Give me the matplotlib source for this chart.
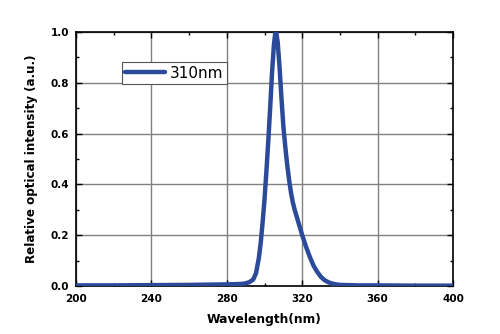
import numpy as np
import matplotlib.pyplot as plt
from matplotlib.ticker import MultipleLocator

# spectrum (nm, relative intensity)
wavelength = [200, 220, 240, 260, 270, 280, 285, 288, 290, 292, 294, 295.5,
              297, 298, 299, 300, 301, 302, 303, 304, 305, 305.7, 306.3, 307, 308,
              309, 310, 311, 312, 313, 314, 315, 316, 318, 320, 322, 324,
              326, 328, 330, 332, 334, 336, 338, 340, 345, 350, 360, 380, 400]
intensity = [0.002, 0.002, 0.003, 0.004, 0.005, 0.006, 0.007, 0.008, 0.010, 0.015,
             0.025, 0.05, 0.11, 0.17, 0.25, 0.34, 0.45, 0.57, 0.70, 0.84,
             0.95, 0.995, 0.995, 0.96, 0.86, 0.74, 0.63, 0.55, 0.48, 0.42, 0.37,
             0.33, 0.30, 0.25, 0.20, 0.155, 0.115, 0.08, 0.055, 0.035, 0.022,
             0.014, 0.009, 0.006, 0.004, 0.003, 0.002, 0.002, 0.001, 0.001]
series_name = "310nm"

fig = plt.figure(figsize=(5, 3.34), dpi=100)
ax = fig.add_axes([0.152, 0.144, 0.754, 0.760])

ax.plot(wavelength, intensity, color="#2b4a99", lw=3.2, label=series_name,
        solid_capstyle="round", solid_joinstyle="round", zorder=3)

ax.set_xlim(200, 400)
ax.set_ylim(0, 1.0)
ax.xaxis.set_major_locator(MultipleLocator(40))
ax.xaxis.set_minor_locator(MultipleLocator(20))
ax.yaxis.set_major_locator(MultipleLocator(0.2))
ax.yaxis.set_minor_locator(MultipleLocator(0.1))
ax.yaxis.set_major_formatter(plt.FormatStrFormatter("%.1f"))

ax.grid(True, which="major", color="#808080", lw=1.0)
ax.tick_params(which="both", direction="in", top=True, right=True,
               labeltop=False, labelright=False, width=1)
ax.tick_params(which="major", length=4, labelsize=7.5)
ax.tick_params(axis="x", which="major", pad=6)
ax.tick_params(axis="y", which="major", pad=5)
ax.tick_params(which="minor", length=2.5)
for lab in ax.get_xticklabels() + ax.get_yticklabels():
    lab.set_fontweight("bold")
for sp in ax.spines.values():
    sp.set_linewidth(1.2)

ax.set_xlabel("Wavelength(nm)", fontsize=8.8, fontweight="bold", labelpad=6)
ax.set_ylabel("Relative optical intensity (a.u.)", fontsize=8.6,
              fontweight="bold", labelpad=9)

leg = ax.legend(loc="upper left", bbox_to_anchor=(0.121, 0.883), fontsize=11,
                frameon=True, fancybox=False, handlelength=2.6,
                borderpad=0.25, handletextpad=0.3, borderaxespad=0)
leg.get_frame().set_edgecolor("#555555")
leg.get_frame().set_linewidth(0.8)
leg.get_frame().set_alpha(1)

plt.savefig("out.png", dpi=100)
